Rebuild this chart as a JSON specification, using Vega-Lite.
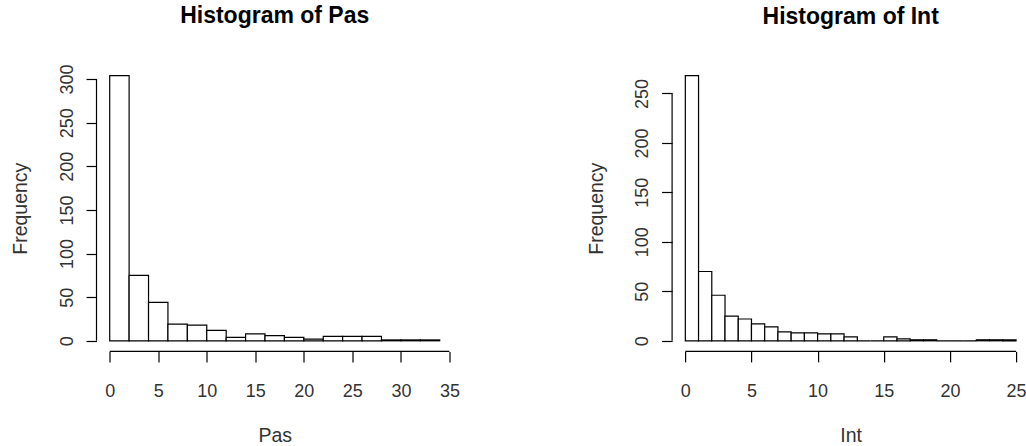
{
  "$schema": "https://vega.github.io/schema/vega-lite/v6.json",
  "background": "white",
  "padding": {"left": 10.5, "top": 5, "right": 0, "bottom": 0},
  "spacing": 218.6,
  "bounds": "flush",
  "config": {
    "view": {"stroke": null},
    "font": "Liberation Sans",
    "axis": {
      "domain": false,
      "grid": false,
      "ticks": true,
      "tickColor": "black",
      "tickWidth": 1.2,
      "tickSize": 10.5,
      "labelFont": "Liberation Sans",
      "labelFontSize": 18,
      "labelColor": "#333333",
      "labelFlush": false,
      "labelOverlap": false,
      "titleFont": "Liberation Sans",
      "titleFontSize": 19.5,
      "titleFontWeight": "normal",
      "titleColor": "#333333"
    },
    "axisX": {
      "labelBaseline": "alphabetic",
      "labelPadding": 34.2,
      "titleBaseline": "alphabetic",
      "titleY": 90
    },
    "axisY": {
      "labelAngle": 270,
      "labelAlign": "center",
      "labelBaseline": "alphabetic",
      "labelPadding": 14,
      "titleAngle": 270,
      "titleAlign": "center",
      "titleBaseline": "alphabetic",
      "titleX": -69.8,
      "titleY": 143.2
    },
    "title": {
      "font": "Liberation Sans",
      "fontSize": 23,
      "fontWeight": "bold",
      "color": "black",
      "anchor": "middle",
      "frame": "group",
      "baseline": "alphabetic",
      "offset": 36
    }
  },
  "datasets": {
    "pas": [
      {"start": 0, "end": 2, "count": 304},
      {"start": 2, "end": 4, "count": 75},
      {"start": 4, "end": 6, "count": 44},
      {"start": 6, "end": 8, "count": 19},
      {"start": 8, "end": 10, "count": 18},
      {"start": 10, "end": 12, "count": 12},
      {"start": 12, "end": 14, "count": 4},
      {"start": 14, "end": 16, "count": 8},
      {"start": 16, "end": 18, "count": 6},
      {"start": 18, "end": 20, "count": 4},
      {"start": 20, "end": 22, "count": 2},
      {"start": 22, "end": 24, "count": 5},
      {"start": 24, "end": 26, "count": 5},
      {"start": 26, "end": 28, "count": 5},
      {"start": 28, "end": 30, "count": 1},
      {"start": 30, "end": 32, "count": 1},
      {"start": 32, "end": 34, "count": 1}
    ],
    "int": [
      {"start": 0, "end": 1, "count": 268},
      {"start": 1, "end": 2, "count": 70},
      {"start": 2, "end": 3, "count": 46},
      {"start": 3, "end": 4, "count": 25},
      {"start": 4, "end": 5, "count": 22},
      {"start": 5, "end": 6, "count": 17},
      {"start": 6, "end": 7, "count": 14},
      {"start": 7, "end": 8, "count": 9},
      {"start": 8, "end": 9, "count": 8},
      {"start": 9, "end": 10, "count": 8},
      {"start": 10, "end": 11, "count": 7},
      {"start": 11, "end": 12, "count": 7},
      {"start": 12, "end": 13, "count": 4},
      {"start": 13, "end": 14, "count": 0},
      {"start": 14, "end": 15, "count": 0},
      {"start": 15, "end": 16, "count": 4},
      {"start": 16, "end": 17, "count": 2},
      {"start": 17, "end": 18, "count": 1},
      {"start": 18, "end": 19, "count": 1},
      {"start": 19, "end": 20, "count": 0},
      {"start": 20, "end": 21, "count": 0},
      {"start": 21, "end": 22, "count": 0},
      {"start": 22, "end": 23, "count": 1},
      {"start": 23, "end": 24, "count": 1},
      {"start": 24, "end": 25, "count": 1}
    ]
  },
  "hconcat": [
    {
      "width": 356.4,
      "height": 286.4,
      "title": {"text": "Histogram of Pas"},
      "layer": [
        {
          "data": {"name": "pas"},
          "mark": {"type": "bar", "fill": "white", "stroke": "black", "strokeWidth": 1.2},
          "encoding": {
            "x": {
              "field": "start",
              "type": "quantitative",
              "scale": {"domain": [-1.36, 35.36], "nice": false, "zero": false},
              "axis": {"title": "Pas", "values": [0, 5, 10, 15, 20, 25, 30, 35]}
            },
            "x2": {"field": "end"},
            "y": {
              "field": "count",
              "type": "quantitative",
              "scale": {"domain": [-12.16, 316.16], "nice": false, "zero": false},
              "axis": {"title": "Frequency", "values": [0, 50, 100, 150, 200, 250, 300]}
            },
            "y2": {"datum": 0}
          }
        },
        {
          "data": {"values": [{}]},
          "mark": {"type": "rule", "color": "black", "strokeWidth": 1.2},
          "encoding": {"x": {"datum": 0}, "x2": {"datum": 35}, "y": {"datum": -12.16}}
        },
        {
          "data": {"values": [{}]},
          "mark": {"type": "rule", "color": "black", "strokeWidth": 1.2},
          "encoding": {"x": {"datum": -1.36}, "y": {"datum": 0}, "y2": {"datum": 300}}
        }
      ]
    },
    {
      "width": 357.2,
      "height": 286.4,
      "title": {"text": "Histogram of Int"},
      "layer": [
        {
          "data": {"name": "int"},
          "mark": {"type": "bar", "fill": "white", "stroke": "black", "strokeWidth": 1.2},
          "encoding": {
            "x": {
              "field": "start",
              "type": "quantitative",
              "scale": {"domain": [-1, 26], "nice": false, "zero": false},
              "axis": {"title": "Int", "values": [0, 5, 10, 15, 20, 25]}
            },
            "x2": {"field": "end"},
            "y": {
              "field": "count",
              "type": "quantitative",
              "scale": {"domain": [-10.72, 278.72], "nice": false, "zero": false},
              "axis": {"title": "Frequency", "values": [0, 50, 100, 150, 200, 250]}
            },
            "y2": {"datum": 0}
          }
        },
        {
          "data": {"values": [{}]},
          "mark": {"type": "rule", "color": "black", "strokeWidth": 1.2},
          "encoding": {"x": {"datum": 0}, "x2": {"datum": 25}, "y": {"datum": -10.72}}
        },
        {
          "data": {"values": [{}]},
          "mark": {"type": "rule", "color": "black", "strokeWidth": 1.2},
          "encoding": {"x": {"datum": -1}, "y": {"datum": 0}, "y2": {"datum": 250}}
        }
      ]
    }
  ]
}
